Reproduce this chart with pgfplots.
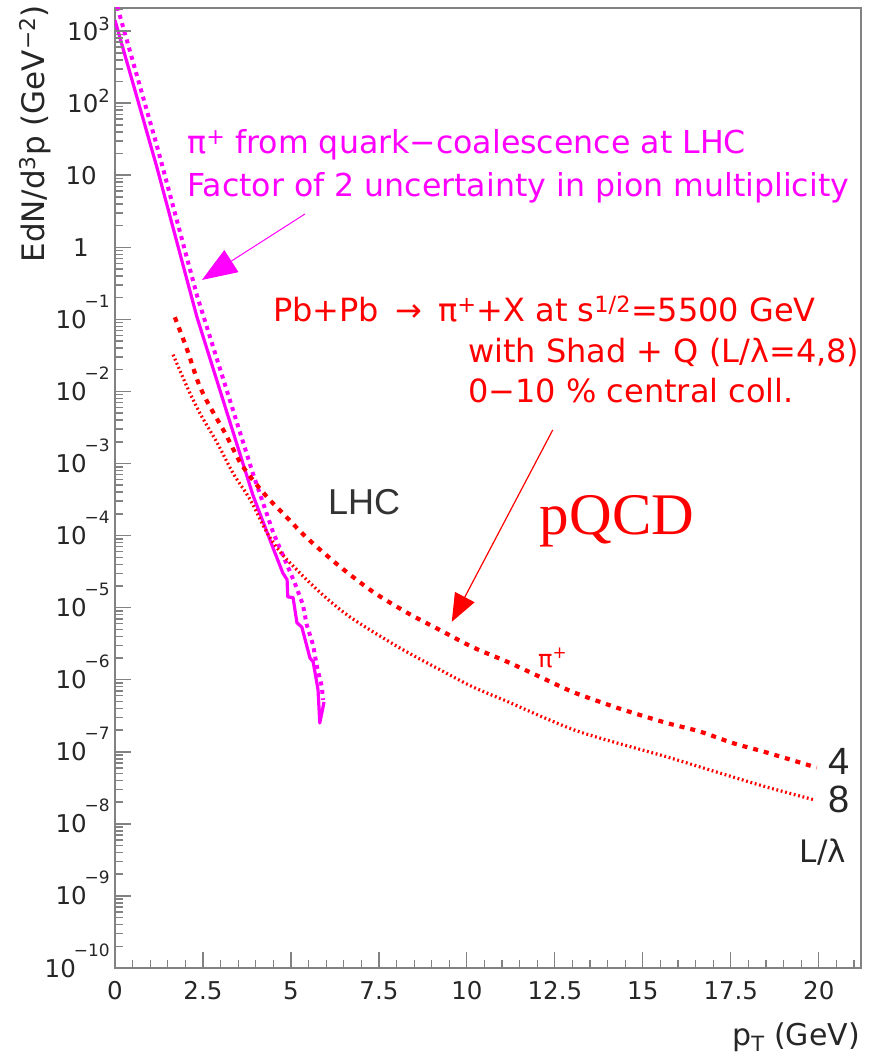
\documentclass[border=0pt]{standalone}
\usepackage{fontspec}
\setmainfont{DejaVu Sans}
\newfontfamily\helv{Liberation Sans}
\newfontfamily\tms{Liberation Serif}
\usepackage{pgfplots}
\pgfplotsset{compat=1.18}
\usetikzlibrary{arrows.meta}
\definecolor{mag}{RGB}{255,0,255}
\definecolor{rd}{RGB}{255,0,0}
\definecolor{framec}{RGB}{130,130,130}
\newcommand{\tp}[1]{10\raisebox{10pt}{\fontsize{18}{18}\selectfont #1}}
\newcommand{\tm}[1]{10\kern-2pt\raisebox{21pt}{\fontsize{17}{17}\selectfont −#1}}
\begin{document}
\begin{tikzpicture}
\useasboundingbox (-115pt,-89pt) rectangle (767pt,968pt);
\begin{axis}[
  at={(0,0)}, anchor=south west, scale only axis,
  width=746pt, height=960pt,
  xmin=0, xmax=21.2, ymode=log, ymin=1e-10, ymax=2089,
  clip mode=individual,
  axis line style={framec, line width=1.2pt},
  tick style={framec, line width=1.2pt},
  tick align=inside, xtick pos=left, ytick pos=left,
  major tick length=16pt, minor tick length=8pt,
  xtick={0,2.5,5,7.5,10,12.5,15,17.5,20},
  xticklabels={0,2.5,5,7.5,10,12.5,15,17.5,20},
  minor xtick={0.5,1,...,21},
  ytick={1e-10,1e-9,1e-8,1e-7,1e-6,1e-5,1e-4,1e-3,1e-2,1e-1,1,10,100,1000},
  yticklabels={\tm{10},\tm{9},\tm{8},\tm{7},\tm{6},\tm{5},\tm{4},\tm{3},\tm{2},\tm{1},1\kern21pt,10\kern13pt,\tp{2},\tp{3}},
  every tick label/.append style={font=\fontsize{24.5}{24.5}\selectfont, text=black!85, inner sep=0pt},
  xticklabel style={anchor=base, yshift=-31pt},
  yticklabel style={anchor=base east, xshift=-5pt, yshift=-9pt},
]
% magenta solid
\addplot[mag, line width=3.2pt, line join=round] coordinates {
(0,1413) (1.19,12.9) (2.33,0.107) (3.92,3.63e-4) (4.49,6.76e-5) (4.77,3.02e-5)
(4.89,2.45e-5) (4.91,1.41e-5) (5.06,1.38e-5) (5.17,6.17e-6) (5.31,5.37e-6)
(5.54,2.0e-6) (5.63,1.78e-6) (5.77,7.24e-7) (5.82,2.51e-7) (5.94,4.9e-7)};
% magenta dotted
\addplot[mag, line width=4pt, dash pattern=on 4pt off 4.5pt] coordinates {
(0,2818) (1.19,25.7) (2.33,0.214) (3.92,7.24e-4) (4.49,1.12e-4) (5.11,2.19e-5)
(5.34,1.10e-5) (5.45,5.75e-6) (5.63,3.02e-6) (5.74,1.51e-6) (5.88,7.94e-7) (5.91,5.25e-7)};
% red L/lambda = 4
\addplot[rd, line width=4.2pt, dash pattern=on 5pt off 6pt, smooth] coordinates {
(1.70,0.107) (2.05,0.038) (2.36,0.0135) (2.64,6.92e-3) (3.13,2.63e-3) (3.55,1.05e-3)
(3.92,5.89e-4) (4.35,3.31e-4) (4.77,2.04e-4) (5.45,9.33e-5) (6.39,3.72e-5)
(7.33,1.66e-5) (8.30,8.51e-6) (9.23,4.90e-6) (10.17,2.82e-6) (11.14,1.78e-6)
(12.07,1.10e-6) (13.01,6.76e-7) (14.15,4.27e-7) (14.72,3.47e-7) (15.68,2.51e-7)
(16.62,1.91e-7) (17.56,1.32e-7) (18.52,9.77e-8) (19.94,6.03e-8)};
% red L/lambda = 8
\addplot[rd, line width=3.2pt, dash pattern=on 1.8pt off 2.7pt, smooth] coordinates {
(1.65,0.0324) (2.05,0.0115) (2.41,5.01e-3) (2.90,1.95e-3) (3.35,7.41e-4)
(3.84,3.16e-4) (4.32,1.10e-4) (4.77,5.37e-5) (5.74,1.78e-5) (6.68,7.41e-6)
(8.10,2.75e-6) (9.23,1.38e-6) (10.17,7.94e-7) (11.14,5.01e-7) (12.07,3.16e-7)
(13.01,2.04e-7) (13.78,1.55e-7) (14.72,1.15e-7) (15.68,8.51e-8) (16.62,6.17e-8)
(17.56,4.47e-8) (18.52,3.24e-8) (19.89,2.14e-8)};
% annotations
\node[mag, anchor=base west, inner sep=0pt, font=\fontsize{31.6}{36}\selectfont] at (axis cs:2.05,20.3) {π\textsuperscript{+} from quark−coalescence at LHC};
\node[mag, anchor=base west, inner sep=0pt, font=\fontsize{31.6}{36}\selectfont] at (axis cs:2.05,4.99) {Factor of 2 uncertainty in pion multiplicity};
\draw[mag, line width=1pt, -{Triangle[length=35pt,width=26pt]}] (axis cs:5.40,2.9) -- (axis cs:2.47,0.352);
\node[rd, anchor=base west, inner sep=0pt, font=\fontsize{32}{36}\selectfont] at (axis cs:4.49,0.092) {Pb+Pb\hspace{0.5em}→\hspace{0.5em}π\textsuperscript{+}+X at s\textsuperscript{1/2}=5500 GeV};
\node[rd, anchor=base west, inner sep=0pt, font=\fontsize{32}{36}\selectfont] at (axis cs:10.03,0.0248) {with Shad + Q (L/λ=4,8)};
\node[rd, anchor=base west, inner sep=0pt, font=\fontsize{32}{36}\selectfont] at (axis cs:10.03,6.92e-3) {0−10 \% central coll.};
\draw[rd, line width=1.2pt, -{Triangle[length=28pt,width=22pt]}] (axis cs:12.44,2.92e-3) -- (axis cs:9.57,6.35e-6);
\node[black!80, anchor=base west, inner sep=0pt, font=\helv\fontsize{36}{40}\selectfont] at (axis cs:6.05,1.94e-4) {LHC};
\node[rd, anchor=base west, inner sep=0pt, font=\tms\fontsize{59}{62}\selectfont] at (axis cs:12.07,1.02e-4) {pQCD};
\node[rd, anchor=base west, inner sep=0pt, font=\fontsize{24}{26}\selectfont] at (axis cs:12.02,1.46e-6) {π\textsuperscript{+}};
\node[black!85, anchor=base west, inner sep=0pt, font=\helv\fontsize{38}{40}\selectfont] at (axis cs:20.26,4.8e-8) {4};
\node[black!85, anchor=base west, inner sep=0pt, font=\helv\fontsize{38}{40}\selectfont] at (axis cs:20.26,1.43e-8) {8};
\node[black!85, anchor=base west, inner sep=0pt, font=\fontsize{31}{34}\selectfont] at (axis cs:19.46,2.88e-9) {L/λ};
\end{axis}
% y-axis tick marks, drawn on the plain canvas (1 decade = 960/13.32 pt)
\foreach \d in {0,...,13}{
  \draw[framec, line width=1.5pt] (0pt,{\d*72.07pt}) -- ++(16pt,0pt);
}
\foreach \d in {0,...,12}{
  \foreach \m in {2,...,9}{
    \draw[framec, line width=1.5pt] (0pt,{(\d+log10(\m))*72.07pt}) -- ++(8pt,0pt);
  }
}
\draw[framec, line width=1.5pt] (0pt,{(13+log10(2))*72.07pt}) -- ++(8pt,0pt);
\node[black!85, rotate=90, anchor=base east, inner sep=0pt, font=\fontsize{31}{32}\selectfont] at (-70pt,963pt) {EdN/d\textsuperscript{3}p (GeV\textsuperscript{−2})};
\node[black!85, anchor=base east, inner sep=0pt, font=\fontsize{30}{32}\selectfont] at (745pt,-77pt) {p\textsubscript{T} (GeV)};
\end{tikzpicture}
\end{document}
